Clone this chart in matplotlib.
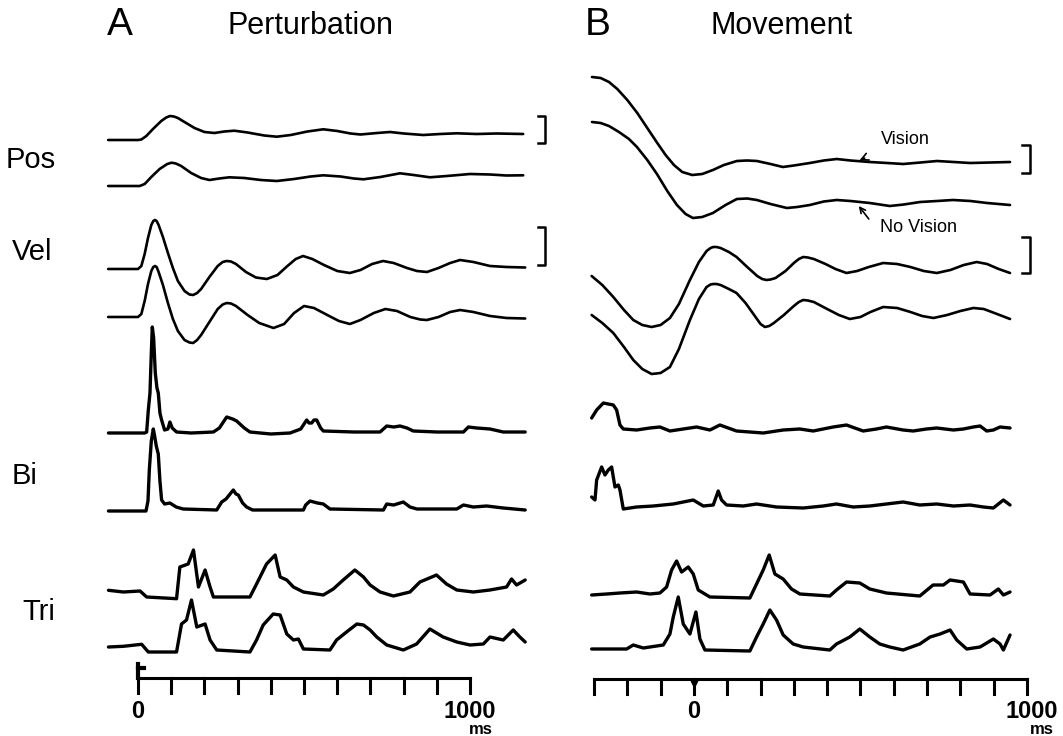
import matplotlib
matplotlib.use('Agg')
import matplotlib.pyplot as plt
import numpy as np

plt.rcParams['font.family'] = ['Liberation Sans Narrow', 'Liberation Sans', 'DejaVu Sans']

# Traces: (time in ms, deflection) pairs, deflection upward positive.
# --- A: perturbation ---
pos_a1 = [(-90, 0), (0, 0), (10, 0.5), (25, 4), (45, 11), (70, 19), (85, 22.5), (96, 24),
          (108, 23.5), (120, 22), (145, 17), (170, 12), (200, 8), (230, 7), (260, 8.5),
          (290, 9.3), (330, 7.5), (380, 4.5), (418, 3.3), (460, 5), (510, 8.5), (558, 10.7),
          (600, 9), (640, 6.5), (670, 5.5), (720, 7), (759, 8), (800, 6.5), (859, 5), (910, 6),
          (960, 6.7), (1020, 6), (1080, 6.5), (1160, 6)]
pos_a2 = [(-90, 0), (5, 0), (20, 2), (40, 9), (65, 17), (88, 22), (101, 23.3), (114, 22.5),
          (130, 20), (160, 13), (190, 8), (215, 6), (245, 7.5), (275, 8.7), (320, 8), (370, 6),
          (418, 5), (470, 7), (520, 9.5), (558, 10.7), (610, 9.5), (650, 7.5), (679, 6.7),
          (730, 9), (789, 12.7), (830, 11), (879, 8.7), (930, 10), (1000, 12), (1060, 11.5),
          (1110, 10.5), (1160, 10.7)]
vel_a1 = [(-90, 0), (0, 0), (10, 3), (20, 15), (30, 31), (40, 44), (46, 48), (51, 49), (56, 48),
          (62, 44), (75, 32), (90, 16), (105, 1), (120, -12), (140, -22), (155, -25.5), (166, -26),
          (178, -24), (190, -20), (215, -8), (240, 3), (255, 7), (267, 8), (280, 7.5), (295, 5),
          (325, -3), (355, -8.5), (388, -10), (420, -6), (450, 3), (475, 10), (497, 13), (525, 10),
          (560, 4), (600, -2), (638, -4), (670, -1), (705, 5), (738, 8), (770, 6), (810, 1),
          (840, -2), (870, -3), (905, 1), (940, 6), (970, 9), (1010, 7), (1060, 3), (1110, 2),
          (1166, 1.5)]
vel_a2 = [(-90, 0), (0, 0), (10, 3), (20, 16), (30, 33), (40, 46), (46, 50), (51, 51), (56, 50),
          (62, 45), (75, 32), (90, 14), (105, -2), (120, -14), (140, -23), (155, -25.5), (166, -26),
          (178, -23), (190, -18), (215, -5), (240, 8), (255, 12.5), (267, 14), (280, 13.5),
          (295, 11), (330, 2), (365, -6), (408, -11), (440, -7), (470, 4), (500, 11), (530, 9),
          (570, 2), (605, -4), (638, -7), (670, -3), (710, 4), (745, 8), (780, 6), (820, 0),
          (850, -2.5), (870, -3), (905, 0), (940, 5), (970, 7), (1010, 5), (1060, 1), (1110, -1),
          (1166, -1.5)]
bi_a1 = [(-89, 0), (20, 0), (26, 1), (31, 23), (36, 40), (40, 80), (43, 106), (47, 95), (52, 60),
         (57, 45), (61, 40), (66, 20), (71, 13), (80, 3), (90, 4), (96, 11), (103, 5), (116, 1),
         (160, 0), (227, 1), (245, 5), (267, 16), (285, 14), (297, 12), (320, 5), (337, 1),
         (400, -1), (458, 0), (490, 4), (508, 13), (515, 10), (523, 10), (530, 13), (538, 13),
         (550, 5), (558, 2), (650, 1), (729, 1), (749, 7), (770, 6), (789, 7), (810, 5), (829, 2),
         (900, 1), (980, 1), (995, 6), (1020, 5), (1060, 4), (1100, 1), (1166, 1)]
bi_a2 = [(-89, 0), (24, 0), (30, 10), (34, 41), (40, 70), (46, 82), (50, 75), (55, 65), (61, 57),
         (66, 30), (71, 11), (80, 7), (96, 8), (115, 4), (136, 2), (237, 1), (252, 9), (265, 12),
         (287, 21), (295, 17), (302, 16), (315, 8), (327, 4), (345, 1), (498, 1), (505, 6),
         (518, 10), (540, 8), (558, 7), (578, 2), (739, 1), (749, 7), (770, 6), (799, 9),
         (819, 4), (840, 2), (960, 2), (980, 6), (1010, 4), (1050, 5), (1100, 3), (1166, 1)]
tri_a1 = [(-89, 6.7), (-44, 5), (6, 6), (26, 0), (116, -1.7), (126, 30), (151, 33), (167, 47),
          (182, 10), (202, 27), (217, 10), (227, 0), (337, 0), (357, 13), (387, 33), (413, 42),
          (428, 20), (448, 17), (468, 10), (498, 5), (558, 2), (588, 8), (618, 17), (653, 27),
          (679, 20), (699, 12), (729, 5), (769, 1), (819, 5), (849, 15), (899, 22), (929, 13),
          (960, 7), (1010, 5), (1060, 7), (1110, 10), (1125, 18), (1140, 12), (1166, 17)]
tri_a2 = [(-89, 5), (-44, 5.7), (11, 7.7), (31, 0), (116, 0), (131, 28), (146, 32), (161, 52),
          (177, 25), (202, 28), (217, 12), (237, 2), (337, 0), (357, 12), (377, 27), (407, 38),
          (428, 37), (448, 18), (468, 12), (483, 13), (498, 3), (578, 2), (598, 12), (628, 20),
          (659, 28), (679, 27), (699, 22), (719, 15), (749, 7), (799, 2), (839, 8), (879, 23),
          (919, 15), (960, 10), (1000, 7), (1040, 8), (1060, 15), (1100, 12), (1130, 22),
          (1150, 15), (1166, 10)]

# --- B: movement ---
pos_b1 = [(-306, 86), (-280, 85), (-255, 81), (-230, 74), (-200, 63), (-170, 50), (-140, 35),
          (-110, 20), (-85, 8), (-60, -2), (-35, -9), (-5, -12), (25, -11), (57, -7), (90, -2),
          (129, 2), (160, 2.5), (189, 2), (230, -1), (267, -4), (300, -2.5), (348, 0), (390, 2.5),
          (429, 4), (470, 2.5), (528, 1), (580, 0), (628, -1), (680, 0.5), (730, 2), (780, 1),
          (829, 0), (890, 0.5), (949, 1)]
pos_b2 = [(-306, 83), (-280, 82), (-255, 79), (-225, 73), (-195, 66), (-171, 58), (-140, 45),
          (-111, 31), (-80, 14), (-51, 0), (-25, -9), (-3, -13), (25, -12), (57, -8), (95, 0),
          (129, 6), (160, 6.5), (189, 5), (230, 1), (279, -3), (310, -2), (348, 0), (390, 3.5),
          (429, 5), (470, 4), (528, 2), (588, -1), (630, 0.5), (679, 3), (730, 4), (778, 5),
          (830, 4), (880, 2), (949, 0)]
vel_b1 = [(-307, -8), (-275, -17), (-242, -29), (-210, -42), (-182, -52), (-155, -57), (-127, -59),
          (-100, -57), (-72, -50), (-45, -36), (-12, -12), (15, 6), (38, 17), (50, 20), (58, 21),
          (68, 21), (80, 20), (105, 16), (128, 11), (160, 1), (190, -8), (205, -11), (218, -12),
          (230, -11.5), (245, -10), (275, -3), (300, 5), (315, 9), (328, 11), (342, 10.5),
          (360, 9), (395, 4), (425, -1), (458, -5), (490, -3), (525, 1), (568, 5), (610, 4),
          (650, 1), (690, -3), (729, -5), (770, -2), (810, 3), (849, 6), (880, 4), (915, -1),
          (949, -5)]
vel_b2 = [(-307, -3), (-275, -11), (-242, -21), (-210, -35), (-182, -48), (-155, -57), (-127, -62),
          (-100, -61), (-72, -55), (-45, -37), (-12, -8), (15, 13), (38, 25), (50, 27.5), (58, 28),
          (68, 28), (80, 27), (105, 23), (128, 19), (155, 9), (185, -5), (200, -12), (213, -15),
          (226, -14), (240, -11), (270, -3), (300, 6), (315, 10), (328, 12), (342, 11.5),
          (360, 10), (400, 3), (435, -3), (468, -7), (500, -5), (530, 0), (568, 5), (610, 4),
          (650, 0), (685, -4), (719, -6), (760, -3), (800, 1), (839, 4), (870, 3), (910, -2),
          (949, -7)]
bi_b1 = [(-307, 12), (-292, 20), (-272, 27), (-257, 26), (-242, 25), (-232, 20), (-222, 5),
         (-212, 1), (-172, 0), (-132, 2), (-102, 3), (-72, -1), (-32, 1), (8, 3), (48, 0), (78, 5),
         (128, -1), (168, -2), (208, -3), (268, 0), (318, 1), (358, -1), (418, 3), (458, 5),
         (508, -1), (548, 1), (578, 3), (628, 0), (658, -1), (698, 1), (729, 2), (779, 0),
         (809, 1), (839, 3), (859, 4), (879, -1), (899, 0), (919, 3), (949, 2)]
bi_b2 = [(-307, 10), (-297, 7), (-292, 27), (-277, 40), (-267, 32), (-257, 37), (-247, 40),
         (-237, 20), (-227, 22), (-222, 17), (-212, -2), (-172, 0), (-122, 1), (-62, 3), (-2, 7),
         (28, 1), (58, 2), (73, 16), (83, 7), (98, 2), (148, 1), (188, 3), (248, 0), (328, -1),
         (388, 1), (428, 3), (478, 0), (528, 1), (578, 3), (628, 5), (678, 2), (729, 3), (779, 1),
         (829, 2), (869, 0), (899, -1), (929, 7), (949, 2)]
tri_b1 = [(-307, 2), (-262, 3), (-222, 4), (-172, 5), (-132, 3), (-102, 4), (-82, 10), (-67, 27),
          (-52, 36), (-37, 25), (-17, 30), (-2, 23), (13, 7), (48, 0), (168, -1), (188, 13),
          (208, 27), (226, 42), (243, 23), (268, 18), (293, 8), (318, 3), (408, 1), (428, 7),
          (458, 15), (498, 14), (528, 8), (578, 4), (678, 1), (718, 12), (749, 12), (769, 17),
          (809, 15), (829, 3), (889, 2), (914, 8), (929, 2), (949, 5)]
tri_b2 = [(-307, 2), (-202, 2), (-182, 6), (-152, 3), (-92, 6), (-72, 17), (-62, 34), (-47, 54),
          (-32, 27), (-12, 17), (6, 39), (18, 12), (33, 1), (168, 0), (188, 14), (208, 27),
          (228, 41), (248, 31), (268, 16), (298, 7), (328, 4), (408, 1), (428, 7), (468, 14),
          (498, 22), (528, 14), (558, 7), (588, 4), (628, 1), (678, 7), (709, 14), (739, 17),
          (769, 21), (789, 11), (819, 2), (859, 4), (899, 12), (919, 7), (929, 1), (949, 16)]

row_labels = ['Pos', 'Vel', 'Bi', 'Tri']
panel_titles = [('A', 'Perturbation'), ('B', 'Movement')]

# vertical layout (baseline of each trace, axis runs downward)
base_a = [140, 186, 269, 317, 433, 511, 597, 652]
base_b = [163, 205, 268, 312, 430, 507, 597, 651]
label_y = [160, 252, 476, 612]

fig = plt.figure(figsize=(10.63, 7.36), dpi=100)
ax_a = fig.add_axes([0, 0, 570 / 1063, 1])
ax_b = fig.add_axes([570 / 1063, 0, 1 - 570 / 1063, 1])
ax_a.set_xlim(-415.7, 1301)
ax_b.set_xlim(-372, 1108)
for ax in (ax_a, ax_b):
    ax.set_ylim(736, 0)
    ax.axis('off')


def trace(ax, pts, base, lw):
    t, v = np.array(pts, dtype=float).T
    ax.plot(t, base - v, color='black', lw=lw, solid_joinstyle='round',
            solid_capstyle='round')


traces_a = [pos_a1, pos_a2, vel_a1, vel_a2, bi_a1, bi_a2, tri_a1, tri_a2]
traces_b = [pos_b1, pos_b2, vel_b1, vel_b2, bi_b1, bi_b2, tri_b1, tri_b2]
for i, (pts, base) in enumerate(zip(traces_a, base_a)):
    trace(ax_a, pts, base, 1.9 if i < 4 else 2.4)
for i, (pts, base) in enumerate(zip(traces_b, base_b)):
    trace(ax_b, pts, base, 1.9 if i < 4 else 2.4)


def bracket(ax, x, y0, y1, arm):
    ax.plot([x - arm, x, x, x - arm], [y0, y0, y1, y1], color='black', lw=1.8)


bracket(ax_a, 1226, 116, 143, 22)
bracket(ax_a, 1226, 227, 265, 22)
bracket(ax_b, 1009, 145, 173, 24)
bracket(ax_b, 1009, 237, 273, 24)


def time_bar(ax, t0, t1, y):
    ax.plot([t0, t1], [y, y], color='black', lw=2.2)
    for tk in np.arange(t0, t1 + 1, 100):
        ax.plot([tk, tk], [y, y + 15], color='black', lw=2.2)


time_bar(ax_a, 0, 1000, 678)
time_bar(ax_b, -300, 1000, 679)

# stimulus marks at time zero
ax_a.plot([0, 0], [664, 678], color='black', lw=3)
ax_a.plot([0, 18], [668, 668], color='black', lw=3)
ax_b.plot([0], [683], marker='v', color='black', ms=6)

tick_font = dict(fontsize=17, fontweight='bold', ha='center', va='center')
ax_a.text(0, 712, '0', **tick_font)
ax_a.text(1000, 712, '1000', **tick_font)
ax_a.text(1033, 729, 'ms', fontsize=12, fontweight='bold', ha='center', va='center')
ax_b.text(0, 712, '0', **tick_font)
ax_b.text(1015, 712, '1000', **tick_font)
ax_b.text(1045, 729, 'ms', fontsize=12, fontweight='bold', ha='center', va='center')

# panel titles
ax_a.text(-54, 25, panel_titles[0][0], fontsize=28, ha='center', va='center')
ax_a.text(518, 26, panel_titles[0][1], fontsize=22, ha='center', va='center')
ax_b.text(-288, 25, panel_titles[1][0], fontsize=28, ha='center', va='center')
ax_b.text(264, 26, panel_titles[1][1], fontsize=22, ha='center', va='center')

# row labels on the left
label_x = [-322, -319, -343, -300]
for lab, x, y in zip(row_labels, label_x, label_y):
    ax_a.text(x, y, lab, fontsize=21, ha='center', va='center')

# vision / no vision annotations
ax_b.annotate('Vision', xy=(493, 161), xytext=(634, 140), fontsize=13,
              ha='center', va='center',
              arrowprops=dict(arrowstyle='->', color='black', lw=1.2,
                              shrinkA=12, shrinkB=1))
ax_b.text(559, 227, 'No Vision', fontsize=13, ha='left', va='center')
ax_b.annotate('', xy=(495, 206), xytext=(525, 219),
              arrowprops=dict(arrowstyle='->', color='black', lw=1.2,
                              shrinkA=0, shrinkB=0))

fig.savefig('out.png', dpi=100, facecolor='white')
